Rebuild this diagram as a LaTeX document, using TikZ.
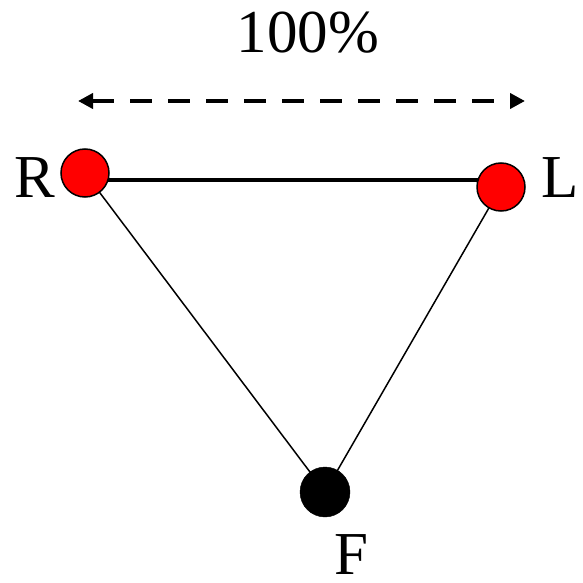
\documentclass[tikz,border=0pt]{standalone}
\usepackage{fontspec}
\setmainfont{Liberation Serif}
\usetikzlibrary{arrows.meta}
\begin{document}
\begin{tikzpicture}[x=1pt,y=-1pt,
  lbl/.style={anchor=base,inner sep=0,font=\fontsize{61}{61}\selectfont},
  redball/.style={circle,minimum size=48pt,inner sep=0,fill=red,draw=black,line width=1.5pt},
  blackball/.style={circle,minimum size=50pt,inner sep=0,fill=black,draw=black},
  thinline/.style={line width=1.5pt},
  thickline/.style={line width=4.5pt},
  dimarrow/.style={line width=4pt,dash pattern=on 22pt off 16pt,{Triangle[length=15pt,width=15pt]}-{Triangle[length=15pt,width=15pt]}}]
\useasboundingbox (0,0) rectangle (582,583);
\coordinate (a1) at (78,101);
\coordinate (a2) at (525,101);
\coordinate (h1) at (85,180);
\coordinate (h2) at (501,180);
\coordinate (rc) at (85,173);
\coordinate (lc) at (501,187);
\coordinate (fc) at (325,492);
\draw[thinline] (rc) -- (fc);
\draw[thinline] (lc) -- (fc);
\draw[thickline] (h1) -- (h2);
\node[redball] (R) at (rc) {};
\node[redball] (L) at (lc) {};
\node[blackball] (F) at (fc) {};
\draw[dimarrow] (a1) -- (a2);
\node[lbl] (t100) at (308,53) {100\%};
\node[lbl] (tR) at (35,197) {R};
\node[lbl] (tL) at (560,197) {L};
\node[lbl] (tF) at (351,574) {F};
\end{tikzpicture}
\end{document}
